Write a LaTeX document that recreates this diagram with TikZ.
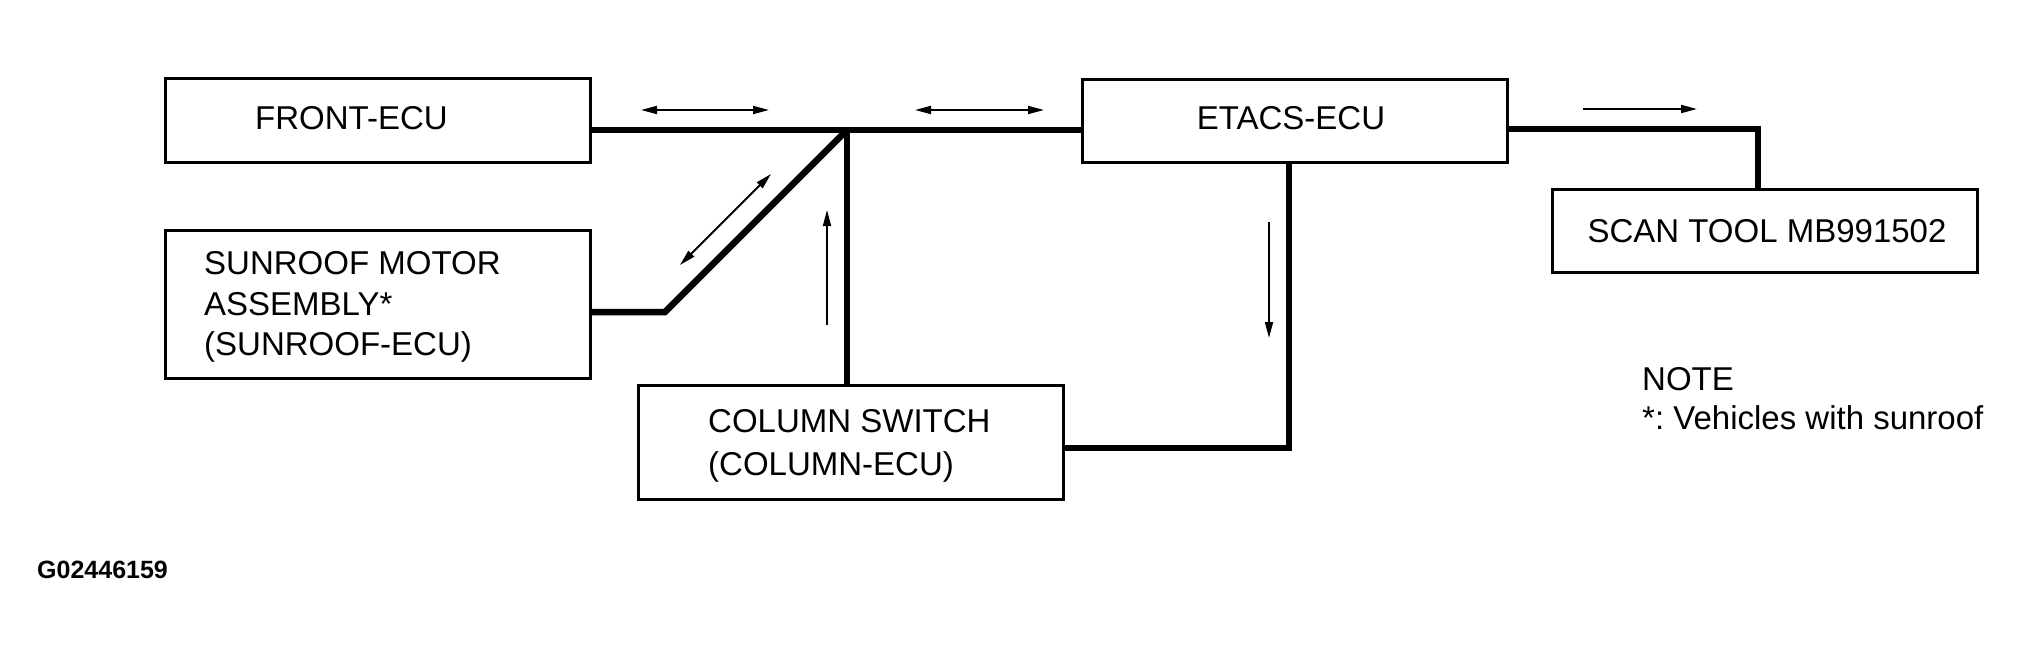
\documentclass[tikz,border=0pt]{standalone}
\usepackage{fontspec}
\setmainfont{Liberation Sans}
\usetikzlibrary{arrows.meta}
\begin{document}
\begin{tikzpicture}[x=1pt,y=-1pt,
  ecubox/.style={draw,line width=3pt,minimum width=425pt,inner sep=0pt,anchor=north west},
  txt/.style={inner sep=0pt,anchor=base west,font=\fontsize{33}{41}\selectfont\frenchspacing},
  ctxt/.style={inner sep=0pt,anchor=base,font=\fontsize{33}{41}\selectfont},
  bus/.style={line width=6.5pt},
  sig/.style={line width=1.8pt,-{Triangle[length=16pt,width=8pt]}},
  dsig/.style={line width=1.8pt,{Triangle[length=16pt,width=8pt]}-{Triangle[length=16pt,width=8pt]}}]
\useasboundingbox (0,0) rectangle (2025,655);
\fill[white] (0,0) rectangle (2025,655);
% boxes
\node[ecubox,minimum height=84pt] (front) at (164,77) {};
\node[ecubox,minimum height=148pt] (sun) at (164,229) {};
\node[ecubox,minimum height=114pt] (col) at (637,384) {};
\node[ecubox,minimum height=83pt] (etacs) at (1081,78) {};
\node[ecubox,minimum height=83pt] (scan) at (1551,188) {};
% texts
\node[txt] (tfront) at (255,130) {FRONT-ECU};
\node[txt] (tsun1) at (204,274) {SUNROOF MOTOR};
\node[txt] (tsun2) at (204,315) {ASSEMBLY*};
\node[txt] (tsun3) at (204,355) {(SUNROOF-ECU)};
\node[txt] (tcol1) at (708,432) {COLUMN SWITCH};
\node[txt] (tcol2) at (708,475) {(COLUMN-ECU)};
\node[ctxt] (tetacs) at (1291,130) {ETACS-ECU};
\node[ctxt] (tscan) at (1767,242) {SCAN TOOL MB991502};
\node[txt] (note1) at (1642,390) {NOTE};
\node[txt] (note2) at (1642,429) {*: Vehicles with sunroof};
\node[inner sep=0pt,anchor=base west,font=\fontsize{25}{30}\selectfont\bfseries] (code) at (37,578) {G02446159};
% bus lines
\coordinate (J) at (847,130);
\coordinate (K) at (665,312);
\coordinate (T) at (1758,129);
\coordinate (D) at (1289,448);
\draw[bus] (front.east |- J) -- (etacs.west |- J);
\draw[bus,line join=miter] (sun.east |- K) -- (K) -- (J);
\draw[bus] (J) -- (col.north -| J);
\draw[bus,line join=miter] (etacs.east |- T) -- (T) -- (scan.north -| T);
\draw[bus,line join=miter] (etacs.south -| D) -- (D) -- (col.east |- D);
% signal arrows
\draw[dsig] (641,110) -- (769,110);
\draw[dsig] (915,110) -- (1044,110);
\draw[dsig] (680,265) -- (771,174);
\draw[sig] (827,325) -- (827,210);
\draw[sig] (1269,222) -- (1269,338);
\draw[sig] (1583,109) -- (1697,109);
\end{tikzpicture}
\end{document}
